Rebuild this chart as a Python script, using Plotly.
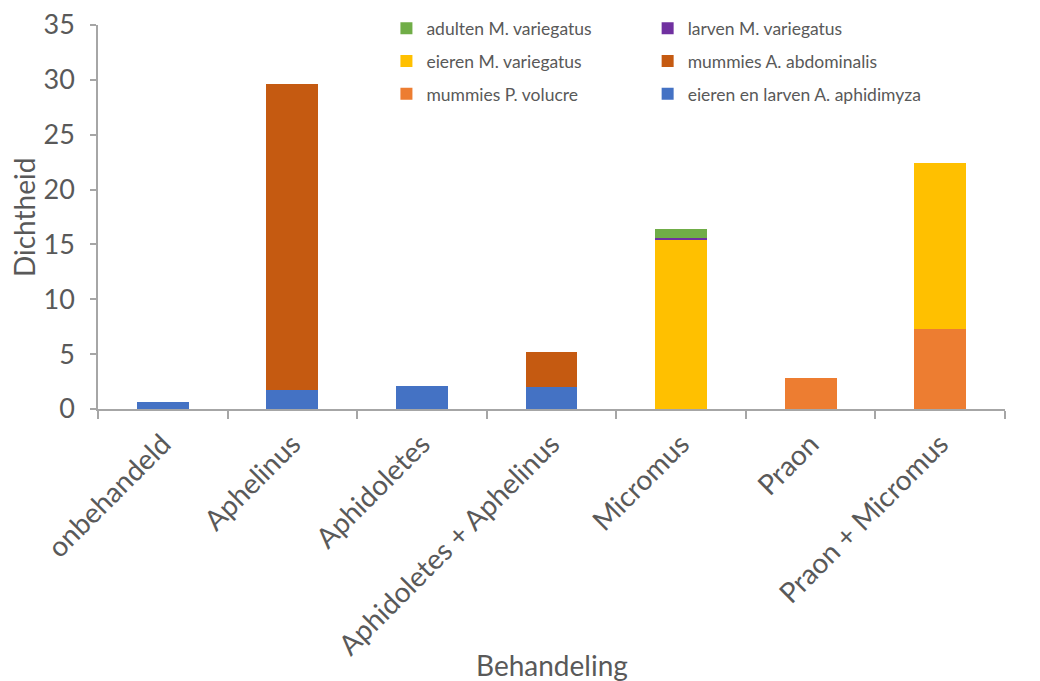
import plotly.graph_objects as go

# Behandelingen (x-as)
categories = [
    "onbehandeld",
    "Aphelinus",
    "Aphidoletes",
    "Aphidoletes + Aphelinus",
    "Micromus",
    "Praon",
    "Praon + Micromus",
]

# Dichtheid per stadium (stapelvolgorde van onder naar boven)
eieren_larven_aphidimyza = [0.66, 1.7, 2.12, 2.0, 0, 0, 0]
mummies_p_volucre = [0, 0, 0, 0, 0, 2.82, 7.3]
mummies_a_abdominalis = [0, 27.95, 0, 3.2, 0, 0, 0]
eieren_m_variegatus = [0, 0, 0, 0, 15.4, 0, 15.15]
larven_m_variegatus = [0, 0, 0, 0, 0.2, 0, 0]
adulten_m_variegatus = [0, 0, 0, 0, 0.85, 0, 0]

# (naam, waarden, kleur, legendakolom, rij in legenda)
series = [
    ("eieren en larven A. aphidimyza", eieren_larven_aphidimyza, "#4472C4", "legend2", 3),
    ("mummies P. volucre", mummies_p_volucre, "#ED7D31", "legend", 3),
    ("mummies A. abdominalis", mummies_a_abdominalis, "#C55A11", "legend2", 2),
    ("eieren M. variegatus", eieren_m_variegatus, "#FFC000", "legend", 2),
    ("larven M. variegatus", larven_m_variegatus, "#7030A0", "legend2", 1),
    ("adulten M. variegatus", adulten_m_variegatus, "#70AD47", "legend", 1),
]

FONT = "Lato, Calibri, sans-serif"
GREY = "#595959"
AXIS = "#A6A6A6"

fig = go.Figure()
for name, values, color, legend, rank in series:
    fig.add_bar(
        x=categories,
        y=values,
        name=name,
        legendgroup=name,
        legendrank=rank,
        marker_color=color,
        marker_line_width=0,
        width=0.4,
        legend=legend,
    )

# Excel-achtige legenda: twee kolommen, laatste reeks bovenaan
legend_style = dict(
    font=dict(family=FONT, size=17.5, color=GREY),
    traceorder="grouped",
    tracegroupgap=7,
    bgcolor="rgba(0,0,0,0)",
    yanchor="top",
    y=1.038,
    xanchor="left",
    itemwidth=30,
)

# de pagina heeft 8px body-marge; marges zijn daarop gecorrigeerd
fig.update_layout(
    width=1040,
    height=681,
    barmode="stack",
    plot_bgcolor="white",
    paper_bgcolor="white",
    font=dict(family=FONT, color=GREY),
    margin=dict(l=90, r=43, t=17, b=280, autoexpand=False),
    showlegend=True,
    legend=dict(x=0.318, **legend_style),
    legend2=dict(x=0.606, **legend_style),
    annotations=[
        dict(
            text="Dichtheid",
            xref="paper", yref="paper",
            x=-0.0816, y=0.5,
            xanchor="center", yanchor="middle",
            textangle=-90,
            showarrow=False,
            font=dict(size=28, color=GREY),
        ),
        dict(
            text="Behandeling",
            xref="paper", yref="paper",
            x=0.5, y=-0.667,
            xanchor="center", yanchor="middle",
            showarrow=False,
            font=dict(size=28, color=GREY),
        ),
    ],
)

fig.update_xaxes(
    automargin=False,
    tickangle=-45,
    tickfont=dict(size=28, color=GREY),
    ticklabelstandoff=6,
    ticklabeloverflow="allow",
    showline=True,
    linecolor=AXIS,
    linewidth=1.5,
    ticks="outside",
    tickson="boundaries",
    ticklen=8,
    tickcolor=AXIS,
    tickwidth=1.5,
    showgrid=False,
)
fig.update_yaxes(
    automargin=False,
    range=[0, 35],
    dtick=5,
    tickfont=dict(size=27, color=GREY),
    ticklabelstandoff=10,
    ticklabeloverflow="allow",
    showline=True,
    linecolor=AXIS,
    linewidth=1.5,
    ticks="outside",
    ticklen=6,
    tickcolor=AXIS,
    tickwidth=1.5,
    showgrid=False,
    zeroline=False,
)

fig.write_html("out.html")
